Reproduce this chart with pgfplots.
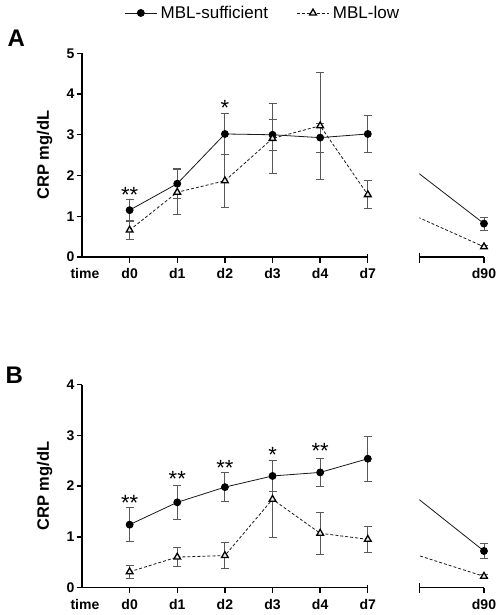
\documentclass[border=0pt]{standalone}
\usepackage{fontspec}
\setmainfont{Liberation Sans}
\usepackage{pgfplots}
\pgfplotsset{compat=1.18}

\tikzset{sigstar/.style={font=\fontsize{22}{22}\selectfont, anchor=base, yshift=-12.5pt, inner sep=0pt}}

\pgfplotsset{
  crp/.style={
    scale only axis,
    ymin=0,
    axis line style={-, line width=1.4pt},
    tick align=outside,
    major tick length=5.5pt,
    every tick/.style={black, line width=1.4pt},
    tick label style={font=\fontsize{14}{15}\selectfont\bfseries},
    /pgf/number format/assume math mode=true,
    xticklabel style={anchor=base, yshift=-16pt},
    yticklabel style={inner xsep=2pt},
  },
  suff/.style={black!90, line width=0.8pt, mark=*, mark size=3.5pt,
    mark options={solid, fill=black, draw=black},
    error bars/.cd, y dir=both, y explicit,
    error bar style={black!65, line width=0.9pt, solid},
    error mark options={rotate=90, black!65, line width=0.9pt, mark size=4pt, solid}},
  low/.style={black!90, line width=0.8pt, dash pattern=on 3pt off 2pt, mark=triangle*, mark size=3.9pt,
    mark options={solid, fill=gray!15, draw=black, line width=1.3pt},
    error bars/.cd, y dir=both, y explicit,
    error bar style={black!65, line width=0.9pt, solid},
    error mark options={rotate=90, black!65, line width=0.9pt, mark size=4pt, solid}},
  conn/.style={black!90, line width=0.8pt, no marks},
  connd/.style={black!90, line width=0.8pt, no marks, dash pattern=on 3pt off 2pt},
}

\begin{document}
\begin{tikzpicture}
\useasboundingbox (0,0) rectangle (498pt,-615pt);

% ---------------- Panel A ----------------
\node[anchor=base west, font=\fontsize{24}{24}\selectfont\bfseries] at (4pt,-46.7pt) {A};
\begin{axis}[crp, at={(82pt,-257pt)}, anchor=south west,
  width=285.8pt, height=203.7pt,
  xmin=-1, xmax=5, ymax=5,
  axis x line*=bottom, axis y line*=left, clip=false,
  xtick={0,1,2,3,4,5}, xticklabels={d0,d1,d2,d3,d4,d7},
  ytick={0,1,2,3,4,5},
  ylabel={CRP mg/dL},
  ylabel style={at={(axis description cs:-0.131,0.5)}, anchor=center, font=\fontsize{16.5}{17}\selectfont\bfseries},
  legend columns=2,
  legend style={draw=none, fill=none, at={(axis description cs:0.635,1.198)}, anchor=center,
    font=\fontsize{17}{18}\selectfont, inner sep=0pt,
    nodes={inner xsep=3.5pt, inner ysep=1pt},
    /tikz/every even column/.append style={column sep=25pt}},
  legend image code/.code={\draw[mark repeat=2, mark phase=2, #1] plot coordinates {(0pt,0pt) (16pt,0pt) (32pt,0pt)};},
]
\addplot[suff] coordinates {
  (0,1.15) +- (0,0.27)
  (1,1.80) +- (0,0.37)
  (2,3.02) +- (0,0.51)
  (3,3.00) +- (0,0.38)
  (4,2.93) +- (0,0.36)
  (5,3.02) +- (0,0.46)
};
\addlegendentry{MBL-sufficient}
\addplot[low] coordinates {
  (0,0.66) +- (0,0.23)
  (1,1.59) +- (0,0.55)
  (2,1.87) +- (0,0.65)
  (3,2.91) +- (0,0.87)
  (4,3.22) +- (0,1.32)
  (5,1.53) +- (0,0.35)
};
\addlegendentry{MBL-low}
\node[sigstar] at (axis cs:0,1.65) {**};
\node[sigstar] at (axis cs:2,3.78) {*};
\end{axis}

\begin{axis}[crp, at={(419.3pt,-257pt)}, anchor=south west,
  width=72.3pt, height=203.7pt,
  xmin=6.083, xmax=7.6, ymax=5,
  axis x line*=bottom, axis y line=none,
  x axis line style={draw=none},
  xtick={7.44}, xticklabels={d90},
]
\addplot[conn] coordinates {(5,3.02) (7.44,0.82)};
\addplot[connd] coordinates {(5,1.53) (7.44,0.25)};
\addplot[suff] coordinates {(7.44,0.82) +- (0,0.16)};
\addplot[low] coordinates {(7.44,0.25) +- (0,0.03)};
\end{axis}
\draw[line width=1.4pt] (419.3pt,-257pt) -- (484pt,-257pt);
\draw[line width=1.4pt] (419.3pt,-252.5pt) -- (419.3pt,-262.5pt);
\draw[line width=1.4pt] (367.7pt,-254pt) -- (367.7pt,-257pt);
\node[anchor=base west, font=\fontsize{14}{15}\selectfont\bfseries] at (67pt,-278.5pt) {time};

% ---------------- Panel B ----------------
\node[anchor=base west, font=\fontsize{24}{24}\selectfont\bfseries] at (2pt,-383.3pt) {B};
\begin{axis}[crp, at={(82pt,-587.5pt)}, anchor=south west,
  width=285.8pt, height=202.8pt,
  xmin=-1, xmax=5, ymax=4,
  axis x line*=bottom, axis y line*=left, clip=false,
  xtick={0,1,2,3,4,5}, xticklabels={d0,d1,d2,d3,d4,d7},
  ytick={0,1,2,3,4},
  ylabel={CRP mg/dL},
  ylabel style={at={(axis description cs:-0.131,0.5)}, anchor=center, font=\fontsize{16.5}{17}\selectfont\bfseries},
]
\addplot[suff] coordinates {
  (0,1.24) +- (0,0.33)
  (1,1.68) +- (0,0.34)
  (2,1.98) +- (0,0.29)
  (3,2.20) +- (0,0.30)
  (4,2.27) +- (0,0.28)
  (5,2.54) +- (0,0.44)
};
\addplot[low] coordinates {
  (0,0.31) +- (0,0.13)
  (1,0.60) +- (0,0.19)
  (2,0.63) +- (0,0.26)
  (3,1.74) +- (0,0.76)
  (4,1.07) +- (0,0.42)
  (5,0.95) +- (0,0.25)
};
\node[sigstar] at (axis cs:0,1.76) {**};
\node[sigstar] at (axis cs:1,2.24) {**};
\node[sigstar] at (axis cs:2,2.45) {**};
\node[sigstar] at (axis cs:3,2.71) {*};
\node[sigstar] at (axis cs:4,2.80) {**};
\end{axis}

\begin{axis}[crp, at={(419.3pt,-587.5pt)}, anchor=south west,
  width=72.3pt, height=202.8pt,
  xmin=6.083, xmax=7.6, ymax=4,
  axis x line*=bottom, axis y line=none,
  x axis line style={draw=none},
  xtick={7.44}, xticklabels={d90},
]
\addplot[conn] coordinates {(5,2.54) (7.44,0.72)};
\addplot[connd] coordinates {(5,0.95) (7.44,0.22)};
\addplot[suff] coordinates {(7.44,0.72) +- (0,0.15)};
\addplot[low] coordinates {(7.44,0.22) +- (0,0.03)};
\end{axis}
\draw[line width=1.4pt] (419.3pt,-587.5pt) -- (484pt,-587.5pt);
\draw[line width=1.4pt] (419.3pt,-583pt) -- (419.3pt,-593pt);
\draw[line width=1.4pt] (367.7pt,-584.5pt) -- (367.7pt,-587.5pt);
\node[anchor=base west, font=\fontsize{14}{15}\selectfont\bfseries] at (67pt,-609.5pt) {time};
\end{tikzpicture}
\end{document}
